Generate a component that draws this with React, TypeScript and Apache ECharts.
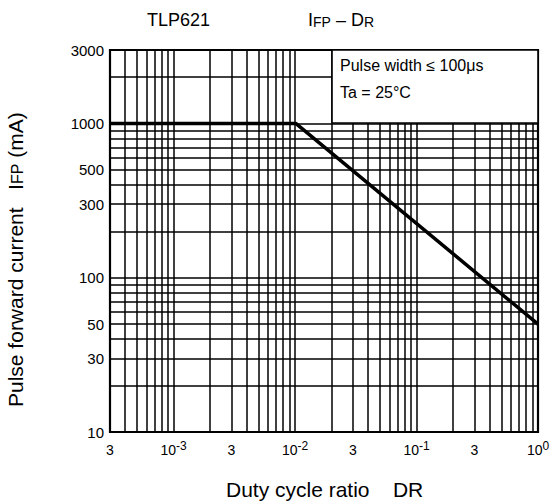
import React, { useEffect, useRef } from "react";
import * as echarts from "echarts";

// Curve: pulse forward current vs duty cycle ratio
const dutyRatio = [3e-4, 0.0102, 1];
const forwardCurrent = [1000, 1000, 50];

// Axis ranges
const xMin = 3e-4;
const xMax = 1;
const yMin = 10;
const yMax = 3000;

// Tick labels
const xTickValues = [3e-4, 1e-3, 3e-3, 1e-2, 3e-2, 1e-1, 3e-1, 1];
const xTickLabels = [
  "{base|3}",
  "{base|10}{sup|-3}",
  "{base|3}",
  "{base|10}{sup|-2}",
  "{base|3}",
  "{base|10}{sup|-1}",
  "{base|3}",
  "{base|10}{sup|0}",
];
const yTickValues = [10, 30, 50, 100, 300, 500, 1000, 3000];
const yTickLabels = ["10", "30", "50", "100", "300", "500", "1000", "3000"];

// Log grid: mantissas per decade
const gridMantissas = [1, 2, 3, 4, 5, 6, 7, 8, 9];
const xDecades = [-4, -3, -2, -1, 0];
const yDecades = [1, 2, 3];

const FONT = '"Liberation Sans", Arial, Helvetica, sans-serif';

function gridValues(decades: number[], lo: number, hi: number): number[] {
  const out: number[] = [];
  decades.forEach((d) => {
    gridMantissas.forEach((m) => {
      const v = Number((m * Math.pow(10, d)).toPrecision(6));
      if (v >= lo * 0.9999 && v <= hi * 1.0001) out.push(v);
    });
  });
  return out;
}

export default function App() {
  const ref = useRef<HTMLDivElement>(null);

  useEffect(() => {
    if (!ref.current) return;
    const chart = echarts.init(ref.current, null, { renderer: "svg" });

    const xGrid = gridValues(xDecades, xMin, xMax);
    const yGrid = gridValues(yDecades, yMin, yMax);

    const option: any = {
      animation: false,
      backgroundColor: "#fff",
      textStyle: { fontFamily: FONT },
      grid: {
        left: 110,
        right: 17,
        top: 50,
        bottom: 71,
        show: true,
        borderColor: "#000",
        borderWidth: 2.2,
        backgroundColor: "transparent",
      },
      xAxis: {
        type: "log",
        logBase: 10,
        min: xMin,
        max: xMax,
        axisLine: { show: false },
        axisTick: { show: false },
        axisLabel: { show: false },
        splitLine: { show: false },
      },
      yAxis: {
        type: "log",
        logBase: 10,
        min: yMin,
        max: yMax,
        axisLine: { show: false },
        axisTick: { show: false },
        axisLabel: { show: false },
        splitLine: { show: false },
      },
      series: [
        {
          name: "grid",
          type: "line",
          data: [],
          z: 1,
          silent: true,
          markLine: {
            silent: true,
            animation: false,
            precision: 10,
            symbol: ["none", "none"],
            lineStyle: { color: "#000", width: 1.5, type: "solid" },
            label: { show: false },
            emphasis: { disabled: true },
            data: [
              ...xGrid.map((v) => ({ xAxis: v })),
              ...yGrid.map((v) => ({ yAxis: v })),
            ],
          },
        },
        {
          name: "xlabels",
          type: "line",
          data: [],
          z: 2,
          silent: true,
          markLine: {
            silent: true,
            animation: false,
            precision: 10,
            symbol: ["none", "none"],
            lineStyle: { color: "rgba(0,0,0,0)", width: 1, opacity: 1 },
            emphasis: { disabled: true },
            label: {
              show: true,
              position: "start",
              distance: 8,
              color: "#000",
              opacity: 1,
              formatter: (p: any) => p.name,
              rich: {
                base: { fontSize: 14, lineHeight: 20, color: "#000", fontFamily: FONT },
                sup: { fontSize: 12, lineHeight: 8, verticalAlign: "top", color: "#000", fontFamily: FONT },
              },
            },
            data: xTickValues.map((v, i) => ({ xAxis: v, name: xTickLabels[i] })),
          },
        },
        {
          name: "ylabels",
          type: "line",
          data: [],
          z: 2,
          silent: true,
          markLine: {
            silent: true,
            animation: false,
            precision: 10,
            symbol: ["none", "none"],
            lineStyle: { color: "rgba(0,0,0,0)", width: 1, opacity: 1 },
            emphasis: { disabled: true },
            label: {
              show: true,
              position: "start",
              distance: 6,
              color: "#000",
              opacity: 1,
              fontSize: 15,
              fontFamily: FONT,
              formatter: (p: any) => p.name,
            },
            data: yTickValues.map((v, i) => ({ yAxis: v, name: yTickLabels[i] })),
          },
        },
        {
          name: "IFP",
          type: "line",
          z: 5,
          symbol: "none",
          showSymbol: false,
          lineStyle: { color: "#000", width: 3.5 },
          data: dutyRatio.map((x, i) => [x, forwardCurrent[i]]),
        },
      ],
      graphic: [
        {
          type: "rect",
          z: 100,
          shape: { x: 332, y: 50, width: 206, height: 73 },
          style: { fill: "#fff", stroke: "#000", lineWidth: 1.6 },
        },
        {
          type: "text",
          z: 101,
          x: 340,
          y: 65,
          style: {
            text: "Pulse width ≤ 100μs",
            font: `16px ${FONT}`,
            fill: "#000",
            verticalAlign: "middle",
          },
        },
        {
          type: "text",
          z: 101,
          x: 340,
          y: 92,
          style: {
            text: "Ta = 25°C",
            font: `16px ${FONT}`,
            fill: "#000",
            verticalAlign: "middle",
          },
        },
        {
          type: "text",
          z: 101,
          x: 147,
          y: 20,
          style: {
            text: "TLP621",
            font: `18px ${FONT}`,
            fill: "#000",
            verticalAlign: "middle",
          },
        },
        {
          type: "text",
          z: 101,
          x: 308,
          y: 20,
          style: {
            text: "{n|I}{s|FP}{n| – D}{s|R}",
            fill: "#000",
            verticalAlign: "middle",
            rich: {
              n: { fontSize: 18, fontFamily: FONT, fill: "#000", color: "#000" },
              s: { fontSize: 14, fontFamily: FONT, lineHeight: 12, verticalAlign: "bottom", fill: "#000", color: "#000" },
            },
          },
        },
        {
          type: "text",
          z: 101,
          x: 226,
          y: 489,
          style: {
            text: "Duty cycle ratio    DR",
            font: `21px ${FONT}`,
            fill: "#000",
            verticalAlign: "middle",
          },
        },
        {
          type: "text",
          z: 101,
          x: 15,
          y: 407,
          rotation: Math.PI / 2,
          style: {
            text: "{n|Pulse forward current   I}{s|FP}{n| (mA)}",
            fill: "#000",
            align: "left",
            verticalAlign: "middle",
            rich: {
              n: { fontSize: 21, fontFamily: FONT, fill: "#000", color: "#000" },
              s: { fontSize: 16, fontFamily: FONT, lineHeight: 14, verticalAlign: "bottom", fill: "#000", color: "#000" },
            },
          },
        },
      ],
    };

    chart.setOption(option);
    return () => chart.dispose();
  }, []);

  return (
    <div
      ref={ref}
      style={{ position: "fixed", left: 0, top: 0, width: 555, height: 503, background: "#fff" }}
    />
  );
}
